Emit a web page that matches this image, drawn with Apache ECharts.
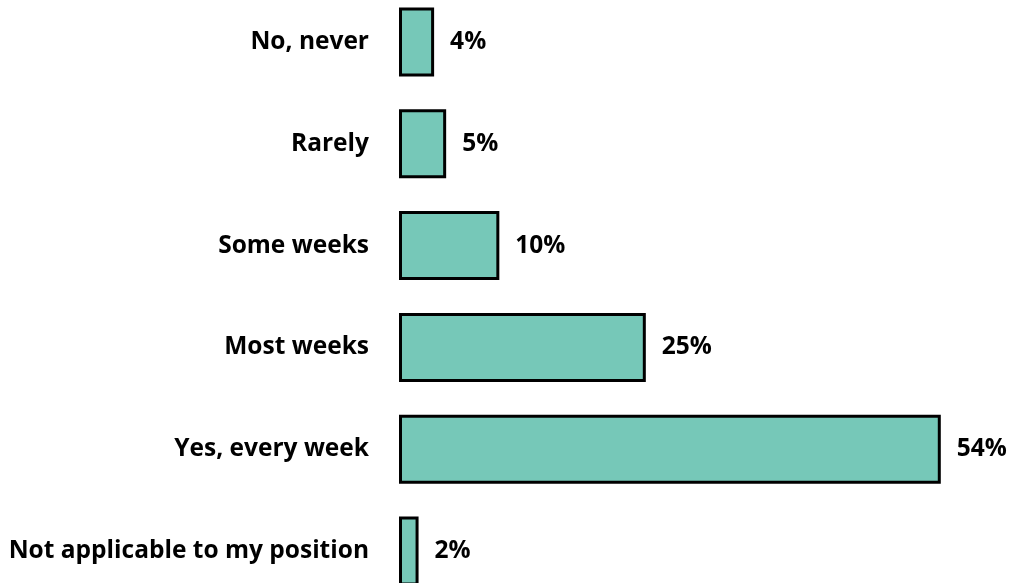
<!DOCTYPE html>
<html>
<head>
<meta charset="utf-8">
<script src="https://cdn.jsdelivr.net/npm/echarts@6/dist/echarts.min.js"></script>
<style>
html,body{margin:0;padding:0;background:#fff;overflow:hidden;width:1010px;height:583px;}
#chart{position:absolute;left:0;top:-9px;width:1010px;height:611px;}
</style>
</head>
<body>
<div id="chart"></div>
<script>
const categories = ['No, never', 'Rarely', 'Some weeks', 'Most weeks', 'Yes, every week', 'Not applicable to my position'];
const values = [3.5, 4.7, 10.0, 24.6, 54.0, 1.95];
const valueLabels = ['4%', '5%', '10%', '25%', '54%', '2%'];

const chart = echarts.init(document.getElementById('chart'), null, {renderer: 'canvas'});
const font = 'Open Sans';
chart.setOption({
  animation: false,
  backgroundColor: '#ffffff',
  grid: {left: 399, right: 9, top: 0, bottom: 0, containLabel: false},
  xAxis: {type: 'value', min: 0, max: 60, show: false},
  yAxis: {
    type: 'category', data: categories, inverse: true,
    axisLine: {show: false}, axisTick: {show: false}, splitLine: {show: false},
    axisLabel: {margin: 30, color: '#000', fontFamily: font, fontWeight: 'bold', fontSize: 24.5}
  },
  series: [{
    type: 'bar', data: values, barWidth: 69,
    itemStyle: {color: '#76C8B8', borderColor: '#000', borderWidth: 3},
    label: {
      show: true, position: 'right', distance: 16,
      formatter: p => valueLabels[p.dataIndex],
      color: '#000', fontFamily: font, fontWeight: 'bold', fontSize: 24.5
    }
  }]
});
</script>
</body>
</html>
